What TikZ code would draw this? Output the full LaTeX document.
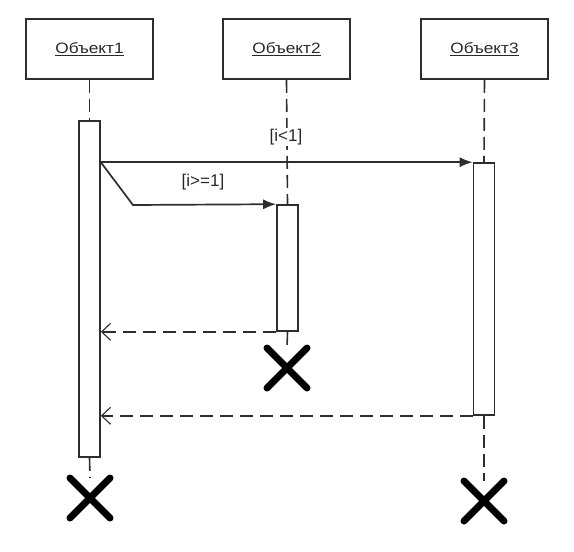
\documentclass[tikz,border=0pt]{standalone}
\usepackage{fontspec}
\setmainfont{Liberation Sans}
\newfontfamily\boxfont[FakeStretch=1.15]{Liberation Sans}
\usetikzlibrary{arrows.meta,shapes.misc}
\definecolor{ln}{RGB}{45,45,45}
\definecolor{tx}{RGB}{40,40,40}
\tikzset{
  objbox/.style={draw=ln, line width=1.8pt, fill=white, minimum width=127pt, minimum height=60pt, inner sep=0pt, text=tx, font=\boxfont\fontsize{15pt}{17pt}\selectfont},
  actbox/.style={draw=ln, line width=1.6pt, fill=white, minimum width=21pt, inner sep=0pt},
  life/.style={draw=ln, line width=1.6pt, dash pattern=on 13pt off 6pt},
  callmsg/.style={draw=ln, line width=1.7pt, -{Latex[length=13pt,width=10pt]}},
  retmsg/.style={draw=ln, line width=1.6pt, dash pattern=on 13pt off 7pt, -{Straight Barb[length=9pt,width=17pt,line width=1.1pt]}},
  guard/.style={text=tx, font=\fontsize{17pt}{20pt}\selectfont, fill=white, inner sep=1pt},
  killx/.style={cross out, draw=black, line width=7pt, line cap=round, minimum size=40pt, inner sep=0pt, outer sep=0pt}
}
\begin{document}
\begin{tikzpicture}[x=1pt,y=-1pt]
\useasboundingbox (0,0) rectangle (574,552);
% objects
\node[objbox] (o1) at (89.5,49) {\underline{Объект1}};
\node[objbox] (o2) at (286.5,49) {\underline{Объект2}};
\node[objbox] (o3) at (484.5,49) {\underline{Объект3}};
% destruction marks
\node[killx] (x1) at (90,498) {};
\node[killx] (x2) at (287,368) {};
\node[killx] (x3) at (484,501) {};
% activation placeholders (for lifeline anchors)
\path (89.5,289) node[actbox, minimum height=336pt, draw=none, fill=none] (a1) {};
\path (287.5,268) node[actbox, minimum height=126pt, draw=none, fill=none] (a2) {};
\path (484,289) node[actbox, minimum height=252pt, draw=none, fill=none] (a3) {};
% lifelines
\draw[life] (o1.south) -- (a1.north);
\draw[life] (a1.south) -- (x1.north);
\draw[life] (o2.south) -- (a2.north);
\draw[life] (a2.south) -- (x2.north);
\draw[life] (o3.south) -- (a3.north);
\draw[life] (a3.south) -- (x3.north);
% activations
\node[actbox, minimum height=336pt] at (a1) {};
\node[actbox, minimum height=126pt] at (a2) {};
\node[actbox, minimum height=252pt] at (a3) {};
% guards
\node[guard] (g1) at (286,137) {[i<1]};
\node[guard, fill=none] (g2) at (203,182) {[i>=1]};
% messages
\coordinate (bend) at (133,205);
\draw[callmsg] (a1.east |- a3.north) -- (a3.north west);
\draw[callmsg] (a1.east |- a3.north) -- (bend) -- (a2.north west);
\draw[retmsg] (a2.south west) -- (a1.east |- a2.south);
\draw[retmsg] (a3.south west) -- (a1.east |- a3.south);
\end{tikzpicture}
\end{document}
